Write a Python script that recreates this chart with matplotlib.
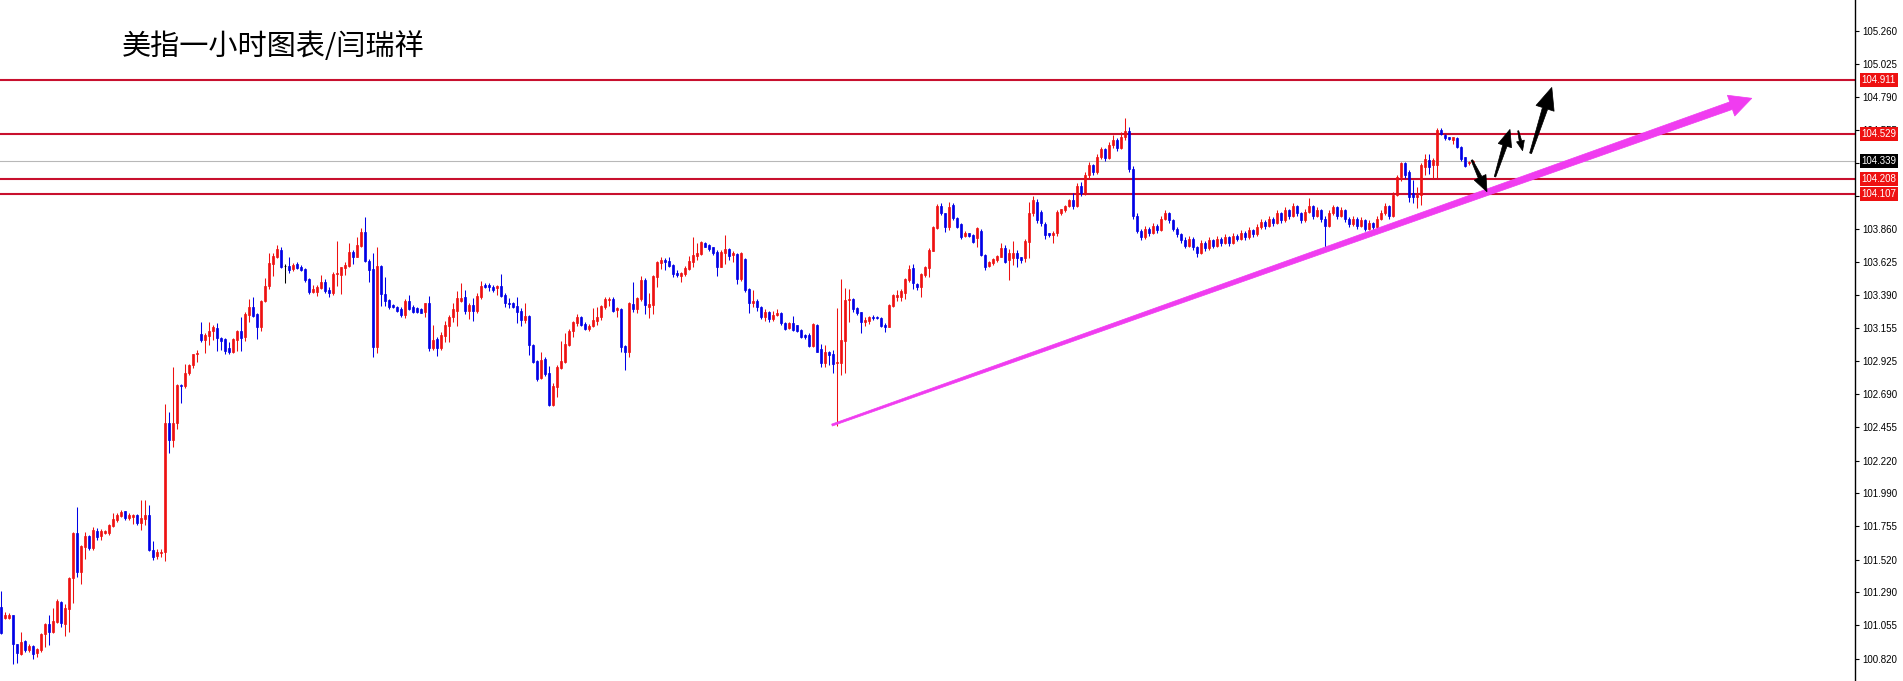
import matplotlib
matplotlib.use('Agg')
import numpy as np
import matplotlib.pyplot as plt
from matplotlib.patches import Polygon
from matplotlib.transforms import blended_transform_factory

# hourly candles (price)
opens = [
    101.186, 101.106, 101.110, 101.125, 100.920, 100.855, 100.943, 100.882, 100.906, 100.858,
    100.882, 100.990, 101.061, 101.007, 101.080, 101.220, 101.066, 101.170, 101.392, 101.708,
    101.432, 101.610, 101.684, 101.600, 101.720, 101.684, 101.708, 101.708, 101.755, 101.802,
    101.825, 101.860, 101.814, 101.820, 101.833, 101.778, 101.809, 101.833, 101.590, 101.542,
    101.566, 101.573, 102.486, 102.363, 102.486, 102.752, 102.745, 102.840, 102.894, 102.972,
    103.115, 103.072, 103.100, 103.138, 103.159, 103.088, 103.077, 103.013, 102.990, 103.072,
    103.138, 103.096, 103.250, 103.308, 103.256, 103.166, 103.350, 103.454, 103.612, 103.660,
    103.708, 103.595, 103.595, 103.572, 103.609, 103.590, 103.574, 103.503, 103.414, 103.414,
    103.437, 103.484, 103.426, 103.407, 103.539, 103.532, 103.579, 103.595, 103.697, 103.661,
    103.737, 103.838, 103.633, 103.572, 103.020, 103.596, 103.398, 103.355, 103.320, 103.303,
    103.289, 103.249, 103.350, 103.303, 103.296, 103.289, 103.273, 103.332, 103.013, 103.077,
    103.013, 103.101, 103.171, 103.233, 103.280, 103.351, 103.374, 103.280, 103.320, 103.280,
    103.374, 103.461, 103.461, 103.450, 103.438, 103.454, 103.391, 103.336, 103.336, 103.313,
    103.280, 103.214, 103.242, 103.037, 102.926, 102.801, 102.936, 102.841, 102.613, 102.738,
    102.872, 102.919, 103.037, 103.138, 103.190, 103.237, 103.185, 103.148, 103.171, 103.209,
    103.233, 103.303, 103.355, 103.360, 103.285, 103.289, 103.030, 102.990, 103.327, 103.289,
    103.360, 103.497, 103.303, 103.320, 103.520, 103.619, 103.638, 103.633, 103.603, 103.548,
    103.525, 103.539, 103.572, 103.626, 103.666, 103.680, 103.761, 103.744, 103.728, 103.697,
    103.591, 103.690, 103.713, 103.673, 103.680, 103.501, 103.643, 103.431, 103.336, 103.350,
    103.303, 103.237, 103.270, 103.220, 103.250, 103.260, 103.195, 103.155, 103.195, 103.176,
    103.143, 103.107, 103.107, 103.030, 103.178, 103.006, 102.907, 102.990, 102.973, 102.907,
    102.907, 103.067, 103.355, 103.360, 103.296, 103.268, 103.202, 103.209, 103.232, 103.237,
    103.225, 103.178, 103.166, 103.313, 103.379, 103.379, 103.407, 103.496, 103.579, 103.468,
    103.445, 103.532, 103.579, 103.704, 103.862, 104.020, 103.968, 103.869, 104.027, 103.932,
    103.890, 103.807, 103.826, 103.815, 103.791, 103.845, 103.673, 103.595, 103.614, 103.638,
    103.661, 103.720, 103.638, 103.650, 103.690, 103.657, 103.650, 103.768, 103.968, 104.050,
    103.980, 103.892, 103.826, 103.815, 103.826, 103.973, 103.990, 104.020, 104.062, 104.020,
    104.160, 104.110, 104.240, 104.310, 104.260, 104.370, 104.420, 104.360, 104.450, 104.490,
    104.430, 104.510, 104.550, 104.280, 103.950, 103.846, 103.800, 103.860, 103.830, 103.880,
    103.850, 103.930, 103.970, 103.920, 103.860, 103.820, 103.780, 103.740, 103.790, 103.730,
    103.690, 103.760, 103.720, 103.780, 103.740, 103.790, 103.760, 103.800, 103.760, 103.810,
    103.790, 103.830, 103.800, 103.850, 103.820, 103.870, 103.910, 103.880, 103.930, 103.900,
    103.970, 103.920, 103.990, 103.950, 104.020, 103.970, 103.920, 103.980, 104.020, 103.950,
    103.990, 103.930, 103.880, 103.970, 104.010, 103.950, 103.990, 103.930, 103.890, 103.930,
    103.880, 103.920, 103.860, 103.900, 103.870, 103.930, 103.970, 104.020, 103.950, 104.100,
    104.227, 104.321, 104.262, 104.109, 104.086, 104.098, 104.298, 104.345, 104.310, 104.310,
    104.557, 104.522, 104.505, 104.486, 104.498, 104.439, 104.368, 104.326, 104.330,
]
highs = [
    101.300, 101.149, 101.140, 101.130, 100.925, 101.005, 100.948, 100.925, 100.915, 100.894,
    101.000, 101.070, 101.130, 101.177, 101.243, 101.226, 101.203, 101.396, 101.715, 101.892,
    101.620, 101.715, 101.690, 101.750, 101.745, 101.733, 101.730, 101.770, 101.851, 101.850,
    101.873, 101.863, 101.849, 101.845, 101.845, 101.940, 101.943, 101.903, 101.649, 101.597,
    101.597, 102.618, 102.561, 102.882, 102.764, 102.764, 102.900, 102.906, 102.976, 103.000,
    103.202, 103.119, 103.202, 103.178, 103.190, 103.096, 103.084, 103.060, 103.084, 103.143,
    103.232, 103.272, 103.360, 103.374, 103.261, 103.355, 103.508, 103.690, 103.690, 103.744,
    103.732, 103.610, 103.657, 103.614, 103.624, 103.602, 103.579, 103.508, 103.461, 103.461,
    103.532, 103.501, 103.444, 103.555, 103.774, 103.591, 103.626, 103.760, 103.708, 103.803,
    103.862, 103.944, 103.642, 103.690, 103.732, 103.603, 103.515, 103.360, 103.327, 103.313,
    103.303, 103.360, 103.391, 103.320, 103.303, 103.296, 103.336, 103.384, 103.178, 103.091,
    103.131, 103.209, 103.249, 103.332, 103.421, 103.478, 103.426, 103.332, 103.367, 103.402,
    103.492, 103.478, 103.473, 103.461, 103.461, 103.539, 103.402, 103.367, 103.344, 103.379,
    103.296, 103.332, 103.249, 103.044, 102.931, 102.990, 102.950, 102.889, 102.771, 102.896,
    103.068, 103.119, 103.148, 103.209, 103.256, 103.242, 103.202, 103.185, 103.296, 103.308,
    103.320, 103.374, 103.374, 103.374, 103.308, 103.296, 103.037, 103.343, 103.485, 103.374,
    103.525, 103.508, 103.407, 103.532, 103.633, 103.657, 103.650, 103.657, 103.610, 103.567,
    103.555, 103.596, 103.666, 103.798, 103.756, 103.775, 103.768, 103.751, 103.732, 103.709,
    103.709, 103.815, 103.721, 103.704, 103.685, 103.697, 103.650, 103.438, 103.426, 103.360,
    103.310, 103.290, 103.280, 103.280, 103.290, 103.270, 103.200, 103.200, 103.242, 103.180,
    103.150, 103.115, 103.120, 103.190, 103.185, 103.044, 103.037, 102.997, 103.000, 103.296,
    103.503, 103.440, 103.430, 103.367, 103.303, 103.272, 103.237, 103.242, 103.249, 103.245,
    103.237, 103.190, 103.327, 103.397, 103.426, 103.430, 103.508, 103.602, 103.609, 103.477,
    103.543, 103.596, 103.720, 103.878, 104.034, 104.043, 103.973, 104.050, 104.038, 103.940,
    103.900, 103.840, 103.830, 103.820, 103.869, 103.860, 103.680, 103.633, 103.650, 103.673,
    103.760, 103.744, 103.713, 103.775, 103.708, 103.660, 103.784, 104.050, 104.090, 104.070,
    103.990, 103.908, 103.830, 103.840, 103.990, 104.000, 104.025, 104.070, 104.110, 104.180,
    104.190, 104.260, 104.330, 104.320, 104.390, 104.440, 104.430, 104.470, 104.520, 104.500,
    104.540, 104.640, 104.580, 104.300, 103.970, 103.860, 103.880, 103.870, 103.900, 103.890,
    103.950, 103.990, 103.980, 103.930, 103.870, 103.830, 103.800, 103.810, 103.800, 103.740,
    103.780, 103.770, 103.800, 103.790, 103.810, 103.800, 103.820, 103.810, 103.830, 103.820,
    103.850, 103.840, 103.870, 103.860, 103.890, 103.930, 103.920, 103.950, 103.940, 103.990,
    103.980, 104.010, 104.000, 104.040, 104.030, 103.980, 104.000, 104.080, 104.030, 104.010,
    104.000, 103.950, 103.990, 104.030, 104.020, 104.010, 104.000, 103.940, 103.950, 103.940,
    103.940, 103.930, 103.920, 103.910, 103.950, 103.990, 104.040, 104.030, 104.120, 104.240,
    104.330, 104.330, 104.274, 104.203, 104.156, 104.321, 104.385, 104.385, 104.357, 104.569,
    104.569, 104.530, 104.510, 104.510, 104.505, 104.444, 104.370, 104.338, 104.345,
]
lows = [
    100.990, 101.100, 101.100, 100.778, 100.790, 100.842, 100.866, 100.866, 100.818, 100.830,
    100.866, 100.900, 100.915, 101.000, 101.070, 101.040, 100.976, 101.007, 101.212, 101.400,
    101.350, 101.526, 101.585, 101.585, 101.660, 101.656, 101.700, 101.690, 101.750, 101.785,
    101.820, 101.797, 101.802, 101.774, 101.762, 101.726, 101.762, 101.578, 101.519, 101.526,
    101.538, 101.510, 102.274, 102.316, 102.446, 102.627, 102.736, 102.823, 102.877, 102.917,
    103.060, 102.978, 103.037, 103.072, 102.997, 103.000, 102.973, 102.973, 102.983, 102.997,
    102.997, 103.067, 103.202, 103.232, 103.077, 103.138, 103.343, 103.430, 103.524, 103.650,
    103.579, 103.477, 103.548, 103.562, 103.572, 103.562, 103.484, 103.397, 103.407, 103.383,
    103.430, 103.407, 103.374, 103.390, 103.454, 103.397, 103.532, 103.591, 103.609, 103.657,
    103.732, 103.626, 103.484, 102.955, 102.983, 103.313, 103.313, 103.289, 103.296, 103.273,
    103.237, 103.226, 103.284, 103.261, 103.266, 103.261, 103.233, 102.997, 103.002, 102.959,
    103.002, 103.060, 103.060, 103.202, 103.171, 103.343, 103.256, 103.219, 103.209, 103.266,
    103.360, 103.438, 103.421, 103.414, 103.390, 103.379, 103.308, 103.296, 103.296, 103.190,
    103.171, 103.195, 102.966, 102.907, 102.785, 102.794, 102.818, 102.606, 102.606, 102.667,
    102.865, 102.912, 103.030, 103.091, 103.171, 103.171, 103.143, 103.138, 103.167, 103.178,
    103.214, 103.289, 103.313, 103.273, 103.233, 102.990, 102.860, 102.955, 103.273, 103.266,
    103.350, 103.256, 103.226, 103.256, 103.449, 103.572, 103.567, 103.586, 103.515, 103.520,
    103.485, 103.525, 103.567, 103.591, 103.638, 103.673, 103.728, 103.704, 103.673, 103.525,
    103.586, 103.610, 103.638, 103.626, 103.468, 103.492, 103.414, 103.266, 103.303, 103.280,
    103.220, 103.210, 103.200, 103.210, 103.240, 103.180, 103.140, 103.150, 103.138, 103.128,
    103.090, 103.080, 103.020, 103.020, 102.985, 102.879, 102.883, 102.895, 102.836, 102.466,
    102.824, 102.836, 103.200, 103.273, 103.249, 103.124, 103.171, 103.185, 103.213, 103.220,
    103.166, 103.131, 103.162, 103.308, 103.350, 103.350, 103.360, 103.485, 103.430, 103.426,
    103.374, 103.520, 103.515, 103.700, 103.855, 103.956, 103.838, 103.850, 103.920, 103.865,
    103.790, 103.800, 103.800, 103.760, 103.732, 103.668, 103.567, 103.586, 103.600, 103.626,
    103.656, 103.614, 103.496, 103.602, 103.591, 103.620, 103.626, 103.650, 103.950, 103.900,
    103.880, 103.790, 103.800, 103.756, 103.810, 103.960, 103.980, 104.010, 104.000, 104.010,
    104.090, 104.100, 104.220, 104.240, 104.250, 104.350, 104.340, 104.350, 104.430, 104.410,
    104.420, 104.490, 104.260, 103.930, 103.830, 103.780, 103.790, 103.810, 103.820, 103.830,
    103.840, 103.920, 103.900, 103.840, 103.800, 103.760, 103.720, 103.730, 103.710, 103.660,
    103.680, 103.700, 103.710, 103.720, 103.730, 103.740, 103.750, 103.740, 103.750, 103.770,
    103.780, 103.780, 103.790, 103.800, 103.810, 103.860, 103.860, 103.870, 103.880, 103.890,
    103.900, 103.910, 103.930, 103.940, 103.950, 103.900, 103.910, 103.970, 103.930, 103.940,
    103.910, 103.720, 103.870, 103.960, 103.930, 103.940, 103.910, 103.870, 103.880, 103.860,
    103.870, 103.840, 103.850, 103.850, 103.860, 103.920, 103.960, 103.930, 103.940, 104.090,
    104.200, 104.220, 104.050, 104.038, 104.003, 104.027, 104.239, 104.250, 104.220, 104.220,
    104.522, 104.490, 104.485, 104.458, 104.430, 104.340, 104.298, 104.310, 104.325,
]
closes = [
    101.002, 101.125, 101.125, 100.925, 100.860, 100.934, 100.882, 100.906, 100.854, 100.887,
    100.990, 101.061, 101.007, 101.085, 101.226, 101.070, 101.177, 101.392, 101.708, 101.432,
    101.613, 101.684, 101.600, 101.726, 101.680, 101.720, 101.722, 101.762, 101.809, 101.837,
    101.856, 101.816, 101.833, 101.833, 101.778, 101.814, 101.833, 101.585, 101.538, 101.573,
    101.573, 102.486, 102.363, 102.486, 102.752, 102.745, 102.840, 102.894, 102.972, 102.983,
    103.072, 103.107, 103.138, 103.166, 103.084, 103.067, 102.997, 102.990, 103.077, 103.136,
    103.090, 103.256, 103.308, 103.242, 103.166, 103.350, 103.454, 103.619, 103.666, 103.713,
    103.586, 103.595, 103.567, 103.602, 103.579, 103.567, 103.496, 103.414, 103.430, 103.444,
    103.484, 103.421, 103.407, 103.539, 103.548, 103.586, 103.602, 103.697, 103.657, 103.744,
    103.838, 103.633, 103.567, 103.020, 103.596, 103.398, 103.351, 103.303, 103.303, 103.280,
    103.249, 103.350, 103.289, 103.273, 103.273, 103.266, 103.332, 103.013, 103.072, 103.013,
    103.108, 103.178, 103.237, 103.289, 103.367, 103.367, 103.280, 103.320, 103.280, 103.384,
    103.454, 103.445, 103.445, 103.426, 103.454, 103.384, 103.332, 103.327, 103.308, 103.273,
    103.214, 103.242, 103.037, 102.919, 102.794, 102.931, 102.832, 102.613, 102.747, 102.879,
    102.926, 103.044, 103.138, 103.202, 103.237, 103.178, 103.148, 103.171, 103.214, 103.237,
    103.313, 103.360, 103.360, 103.280, 103.296, 103.025, 102.990, 103.336, 103.289, 103.367,
    103.497, 103.320, 103.327, 103.525, 103.626, 103.638, 103.626, 103.596, 103.539, 103.532,
    103.544, 103.579, 103.633, 103.673, 103.685, 103.768, 103.732, 103.713, 103.685, 103.591,
    103.697, 103.713, 103.666, 103.685, 103.501, 103.685, 103.426, 103.336, 103.350, 103.308,
    103.237, 103.270, 103.220, 103.250, 103.262, 103.190, 103.147, 103.195, 103.143, 103.136,
    103.095, 103.091, 103.030, 103.185, 102.990, 102.907, 102.990, 102.966, 102.902, 102.919,
    103.072, 103.355, 103.364, 103.289, 103.265, 103.202, 103.213, 103.237, 103.228, 103.225,
    103.171, 103.166, 103.320, 103.390, 103.390, 103.421, 103.501, 103.572, 103.473, 103.445,
    103.539, 103.591, 103.708, 103.869, 104.020, 103.968, 103.869, 104.015, 103.932, 103.873,
    103.800, 103.830, 103.807, 103.767, 103.862, 103.673, 103.591, 103.626, 103.642, 103.666,
    103.720, 103.626, 103.685, 103.685, 103.650, 103.638, 103.775, 103.968, 104.062, 103.920,
    103.897, 103.815, 103.815, 103.830, 103.980, 103.996, 104.020, 104.062, 104.020, 104.160,
    104.110, 104.240, 104.310, 104.260, 104.370, 104.420, 104.360, 104.450, 104.490, 104.430,
    104.510, 104.550, 104.280, 103.950, 103.846, 103.800, 103.860, 103.830, 103.880, 103.850,
    103.930, 103.970, 103.920, 103.860, 103.820, 103.780, 103.740, 103.790, 103.730, 103.690,
    103.760, 103.720, 103.780, 103.740, 103.790, 103.760, 103.800, 103.760, 103.810, 103.790,
    103.830, 103.800, 103.850, 103.820, 103.870, 103.910, 103.880, 103.930, 103.900, 103.970,
    103.920, 103.990, 103.950, 104.020, 103.970, 103.920, 103.980, 104.020, 103.950, 103.990,
    103.930, 103.880, 103.970, 104.010, 103.950, 103.990, 103.930, 103.890, 103.930, 103.880,
    103.920, 103.860, 103.900, 103.870, 103.930, 103.970, 104.020, 103.950, 104.100, 104.227,
    104.321, 104.239, 104.086, 104.086, 104.098, 104.310, 104.350, 104.293, 104.345, 104.557,
    104.529, 104.498, 104.491, 104.505, 104.434, 104.350, 104.302, 104.333, 104.339,
]

level_lines = [104.911, 104.529, 104.208, 104.107]
last_price = 104.339
tick_values = [105.260, 105.025, 104.790, 104.555, 104.325, 104.090, 103.860, 103.625,
               103.390, 103.155, 102.925, 102.690, 102.455, 102.220, 101.990, 101.755,
               101.520, 101.290, 101.055, 100.820]
title = '美指一小时图表/闫瑞祥'

# drawn objects: (candle index, price)
trend_start = (207.75, 102.471)
trend_tip = (437.7, 104.782)
black_arrows = [
    ((367.7, 104.345), (371.5, 104.121)),
    ((373.5, 104.227), (377.25, 104.562)),
    ((379.3, 104.552), (380.4, 104.411)),
    ((382.4, 104.393), (387.7, 104.859)),
]

plt.rcParams['font.family'] = ['Liberation Sans', 'DejaVu Sans']

W, H = 1903, 681
fig = plt.figure(figsize=(W / 100, H / 100), dpi=100)
ax = fig.add_axes([0, 0, 1855 / W, 1])

o = np.array(opens)
h = np.array(highs)
l = np.array(lows)
c = np.array(closes)
x = np.arange(len(c))
colors = np.where(c > o, '#ee1111', np.where(c < o, '#0000e6', '#000000'))

ax.vlines(x, l, h, colors=colors, linewidth=0.75, zorder=3)
ax.bar(x, np.abs(c - o), bottom=np.minimum(o, c), width=0.72, color=colors,
       edgecolor=colors, linewidth=0.5, zorder=4)

ax.set_xlim(-0.25, 463.5)
ax.set_ylim(100.661, 105.477)

for v in level_lines:
    ax.axhline(v, color='#c8102e', lw=1.5, zorder=2)
ax.axhline(last_price, color='#b8b8b8', lw=0.8, zorder=1)


def taper(start, tip, w0, w1, hw, hl, color):
    # tapered arrow, widths in pixels
    p0 = ax.transData.transform(start)
    p1 = ax.transData.transform(tip)
    d = p1 - p0
    u = d / np.hypot(d[0], d[1])
    nv = np.array([-u[1], u[0]])
    b = p1 - u * hl
    pts = [p0 + nv * w0 / 2, b + nv * w1 / 2, b + nv * hw / 2, p1,
           b - nv * hw / 2, b - nv * w1 / 2, p0 - nv * w0 / 2]
    pts = ax.transData.inverted().transform(np.array(pts))
    ax.add_patch(Polygon(pts, closed=True, fc=color, ec=color, lw=0.5, zorder=6))


taper(trend_start, trend_tip, 2.0, 8, 22, 22, '#f03cf0')
sizes = [(1.5, 4, 13, 16), (1.5, 4.5, 14, 17), (1, 2.5, 8, 10), (2, 5.5, 19, 22)]
for (s, t), (w0, w1, hw, hl) in zip(black_arrows, sizes):
    taper(s, t, w0, w1, hw, hl, 'black')

for side in ['left', 'top', 'bottom']:
    ax.spines[side].set_visible(False)
ax.spines['right'].set_color('black')
ax.spines['right'].set_linewidth(1.0)
ax.set_xticks([])
ax.yaxis.tick_right()
ax.set_yticks(tick_values)
ax.set_yticklabels([f'{v:.3f}' for v in tick_values])
ax.tick_params(axis='y', direction='out', length=3, width=0.8, labelsize=7, pad=2.5,
               colors='black')

trans = blended_transform_factory(ax.transAxes, ax.transData)
for v in level_lines:
    ax.text(1.0035, v, f'{v:.3f}', transform=trans, color='white', fontsize=7,
            va='center', ha='left', clip_on=False, zorder=10,
            bbox=dict(boxstyle='square,pad=0.2', fc='#ee1111', ec='none'))
ax.text(1.0035, last_price, f'{last_price:.3f}', transform=trans, color='white',
        fontsize=7, va='center', ha='left', clip_on=False, zorder=10,
        bbox=dict(boxstyle='square,pad=0.2', fc='black', ec='none'))

fig.text(122 / W, 1 - 47 / H, title, fontsize=21, va='center', ha='left',
         family=['Noto Sans CJK SC', 'DejaVu Sans'])

fig.savefig('out.png', dpi=100)
